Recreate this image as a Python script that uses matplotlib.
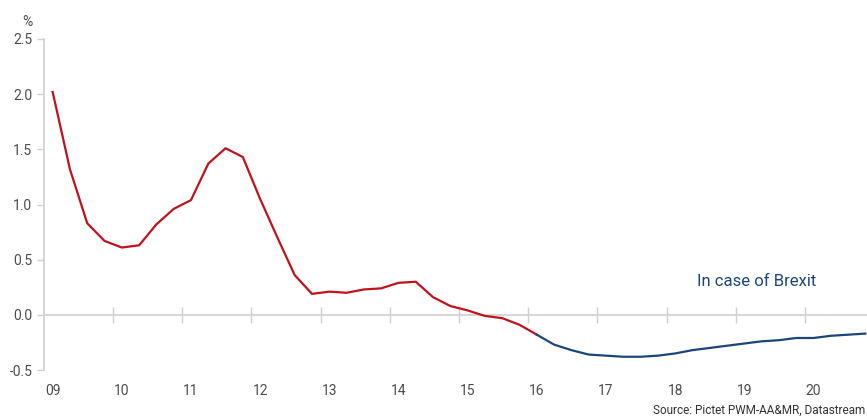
import matplotlib.pyplot as plt
import numpy as np

# quarterly values, 2009Q1 - 2020Q4
years = ["09", "10", "11", "12", "13", "14", "15", "16", "17", "18", "19", "20"]
actual = [2.02, 1.32, 0.83, 0.67, 0.61, 0.63, 0.82, 0.96, 1.04, 1.37, 1.51, 1.43,
          1.05, 0.70, 0.36, 0.19, 0.21, 0.20, 0.23, 0.24, 0.29, 0.30, 0.16, 0.08,
          0.04, -0.01, -0.03, -0.09, -0.18]
brexit = [-0.18, -0.27, -0.32, -0.36, -0.37, -0.38, -0.38, -0.37, -0.35, -0.32,
          -0.30, -0.28, -0.26, -0.24, -0.23, -0.21, -0.21, -0.19, -0.18, -0.17]

plt.rcParams["font.family"] = ["Roboto", "DejaVu Sans"]
grey = "#d0d0d0"
txt = "#4d4d4d"
red = "#C0121C"
blue = "#1B4679"

fig = plt.figure(figsize=(8.67, 4.18), dpi=100)
ax = fig.add_axes([44 / 867, 48 / 418, 830 / 867, 331 / 418])

x_act = np.arange(len(actual))
x_brx = np.arange(len(actual) - 1, len(actual) - 1 + len(brexit))
ax.plot(x_act, actual, color=red, lw=1.6, solid_joinstyle="round")
ax.plot(x_brx, brexit, color=blue, lw=1.6, solid_joinstyle="round")

n = len(years) * 4
ax.set_xlim(-0.5, n - 0.5)
ax.set_ylim(-0.5, 2.5)

# y axis
ax.set_yticks(np.arange(-0.5, 2.51, 0.5))
ax.set_yticklabels([f"{v:.1f}" for v in np.arange(-0.5, 2.51, 0.5)])
ax.tick_params(axis="y", colors=grey, labelcolor=txt, labelsize=10, length=5, width=1)
ax.spines["left"].set_color(grey)
ax.spines["left"].set_linewidth(1.2)
for s in ("top", "right", "bottom"):
    ax.spines[s].set_visible(False)

# year labels under the plot
ax.set_xticks(np.arange(0, n, 4))
ax.set_xticklabels(years)
ax.tick_params(axis="x", length=0, labelsize=10, labelcolor=txt, pad=10)

# zero line with year boundary ticks
zero = ax.secondary_xaxis(1 / 6)
zero.set_xticks(np.arange(-0.5, n, 4)[1:])
zero.tick_params(axis="x", direction="inout", length=12, width=1, colors=grey,
                 labelbottom=False, labeltop=False)
zero.spines["bottom"].set_color(grey)
zero.spines["bottom"].set_linewidth(1.2)
zero.spines["top"].set_color(grey)
zero.spines["top"].set_linewidth(1.2)

ax.text(-0.02, 1.04, "%", transform=ax.transAxes, fontsize=10, color=txt, ha="center")
ax.text(40.7, 0.3, "In case of Brexit", fontsize=12, color=blue, ha="center", va="center")
fig.text(865 / 867, 1 / 418, "Source: Pictet PWM-AA&MR, Datastream", fontsize=8.5,
         color="#333333", ha="right", va="bottom")

fig.savefig("out.png", dpi=100)
